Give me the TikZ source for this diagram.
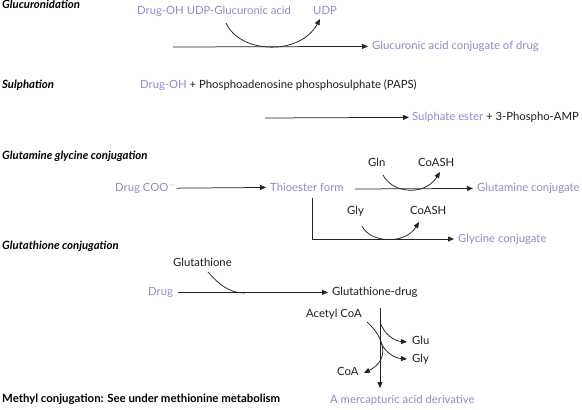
\documentclass[tikz,border=0pt]{standalone}
\usepackage{fontspec}
\setmainfont{Lato}
\usetikzlibrary{arrows.meta}
\definecolor{lav}{RGB}{150,135,205}
\definecolor{lnc}{RGB}{35,35,35}
\definecolor{txc}{RGB}{30,30,30}
\begin{document}
\begin{tikzpicture}[x=1pt,y=-1pt,
 txt/.style={inner sep=0pt, anchor=mid west, text=txc, font=\fontsize{11.3}{13}\selectfont},
 pur/.style={txt, text=lav},
 ttl/.style={inner sep=0pt, anchor=mid west, text=black, font=\fontsize{11.4}{13}\selectfont\bfseries\itshape},
 arr/.style={draw=lnc, line width=0.75pt, -{Triangle[length=6pt,width=5pt]}},
 lnk/.style={draw=lnc, line width=0.75pt}
]
\useasboundingbox (0,0) rectangle (582,410);

% Glucuronidation
\node[ttl] (t1) at (2,6) {Glucuronidation};
\node[pur] (g1) at (137,12) {Drug-OH UDP-Glucuronic acid};
\node[pur] (udp) at (313,12) {UDP};
\coordinate (g0) at (173,47);
\coordinate (gc0) at (226,23);
\coordinate (gc1) at (320,19);
\node[pur] (gprod) at (372,47) {Glucuronic acid conjugate of drug};
\draw[arr, shorten >=4pt] (g0) -- (gprod.west);
\draw[arr] (gc0) .. controls (240,54) and (300,56) .. (gc1);

% Sulphation
\node[ttl] (t2) at (2,86) {Sulphation};
\node[txt] (s1) at (140,86) {\textcolor{lav}{Drug-OH} + Phosphoadenosine phosphosulphate (PAPS)};
\coordinate (s0) at (265,118);
\node[txt] (sprod) at (412,118) {\textcolor{lav}{Sulphate ester} + 3-Phospho-AMP};
\draw[arr, shorten >=3pt] (s0) -- (sprod.west);

% Glutamine glycine conjugation
\node[ttl] (t3) at (2,157) {Glutamine glycine conjugation};
\node[pur] (dc) at (115,189) {Drug COO$^{-}$};
\node[pur] (th) at (270,189) {Thioester form};
\draw[arr, shorten <=1pt, shorten >=4pt] (dc.east) -- (th.west);
\coordinate (q0) at (355,189);
\node[pur] (glnc) at (477,189) {Glutamine conjugate};
\draw[arr, shorten >=4pt] (q0) -- (glnc.west);
\node[txt] (gln) at (368,164) {Gln};
\node[txt] (coa1) at (418,164) {CoASH};
\coordinate (qa) at (383,175);
\coordinate (qb) at (440,172);
\draw[arr] (qa) .. controls (393,194) and (425,196) .. (qb);
\coordinate (v0) at (312,198);
\coordinate (v1) at (312,239);
\node[pur] (glyc) at (458,240) {Glycine conjugate};
\draw[arr, shorten >=4pt] (v0) -- (v1) -- (glyc.west |- v1);
\node[txt] (gly) at (347,212) {Gly};
\node[txt] (coa2) at (410,212) {CoASH};
\coordinate (ya) at (362,226);
\coordinate (yb) at (419,222);
\draw[arr] (ya) .. controls (370,243) and (405,245) .. (yb);

% Glutathione conjugation
\node[ttl] (t4) at (2,247) {Glutathione conjugation};
\node[txt] (gsh) at (173,264) {Glutathione};
\node[pur] (drug) at (148,293) {Drug};
\node[txt] (gsd) at (332,293) {Glutathione-drug};
\draw[arr, shorten <=5pt, shorten >=4pt] (drug.east) -- (gsd.west);
\coordinate (ha) at (208,272);
\coordinate (hb) at (245,293);
\draw[lnk] (ha) .. controls (222,288) and (232,293) .. (hb);
\coordinate (m0) at (380,308);
\node[pur] (merc) at (330,401) {A mercapturic acid derivative};
\draw[arr] (m0) -- (380,388);
\node[txt] (acoa) at (306,315) {Acetyl CoA};
\node[txt] (coa3) at (337,373) {CoA};
\node[txt] (glu) at (412,342) {Glu};
\node[txt] (gly2) at (412,360) {Gly};
\coordinate (aa) at (367,322);
\coordinate (ab) at (364,373);
\draw[arr] (aa) .. controls (385,338) and (390,360) .. (ab);
\coordinate (ua) at (380,322);
\coordinate (ub) at (407,342);
\draw[arr] (ua) .. controls (384,334) and (394,341) .. (ub);
\coordinate (la) at (380,340);
\coordinate (lb) at (407,359);
\draw[arr] (la) .. controls (384,352) and (394,358) .. (lb);

% Methyl
\node[txt, text=black, font=\fontsize{11.4}{13}\selectfont\bfseries] (t5) at (2,400) {Methyl conjugation: See under methionine metabolism};
\end{tikzpicture}
\end{document}
